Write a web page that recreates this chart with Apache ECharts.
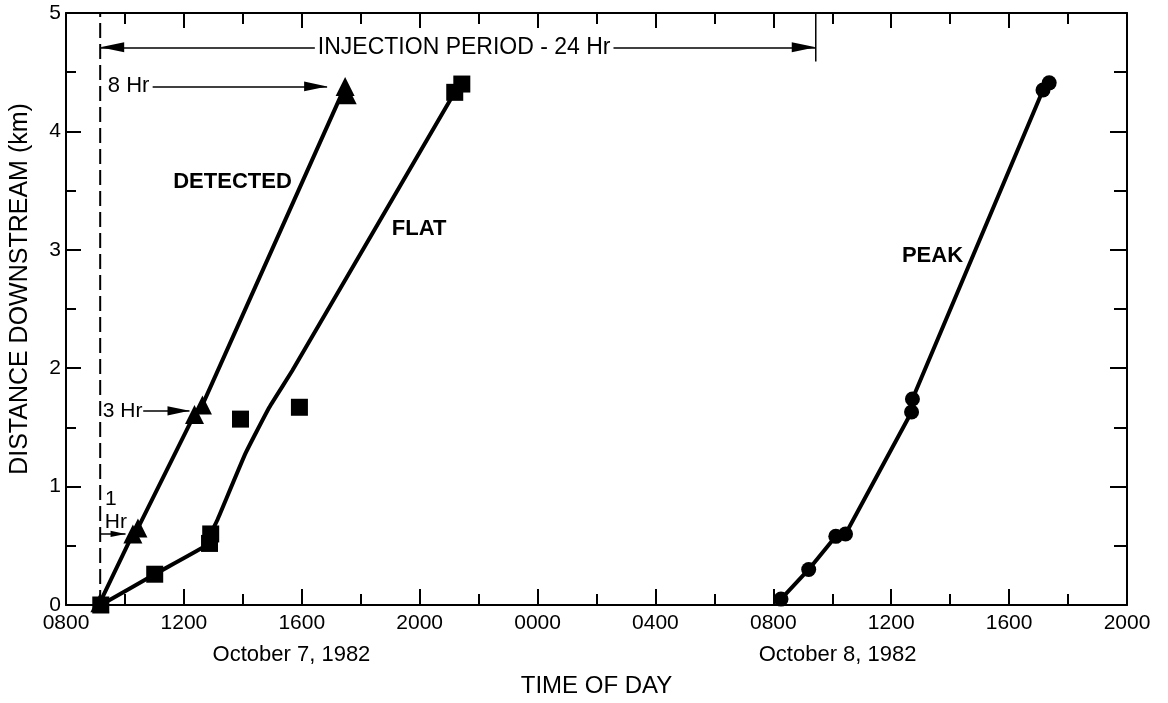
<!DOCTYPE html>
<html><head><meta charset="utf-8">
<script src="https://cdn.jsdelivr.net/npm/echarts@6/dist/echarts.min.js"></script>
<style>html,body{margin:0;padding:0;background:#fff}#c{width:1168px;height:703px}</style>
</head><body><div id="c"></div>
<script>
// x values are hours since 0800, October 7, 1982
const xTickLabels = ['0800','1200','1600','2000','0000','0400','0800','1200','1600','2000'];

const detectedHours = [1.15, 2.27, 2.44, 4.36, 4.63, 9.47, 9.54];
const detectedKm    = [0.02, 0.60, 0.65, 1.61, 1.69, 4.38, 4.31];

const flatHours = [1.18, 3.01, 4.87, 4.91, 5.92, 7.92, 13.19, 13.43];
const flatKm    = [0.00, 0.26, 0.52, 0.60, 1.57, 1.67, 4.33, 4.40];

const flatCurveHours = [1.18, 3.01, 4.87, 4.91, 5.14, 6.09, 6.90, 7.68, 13.19, 13.43];
const flatCurveKm    = [0.00, 0.26, 0.52, 0.60, 0.72, 1.28, 1.67, 1.98, 4.33, 4.40];

const peakHours = [24.26, 25.20, 26.12, 26.45, 28.69, 28.72, 33.15, 33.36];
const peakKm    = [0.05, 0.30, 0.58, 0.60, 1.63, 1.74, 4.35, 4.41];

const injectionStartHour = 1.16;
const injectionEndHour = 25.44;
const injectionArrowKm = 4.71;

const FONT = "'Liberation Sans', Arial, Helvetica, sans-serif";
const pairs = (xs, ys) => xs.map((x, i) => [x, ys[i]]);
const arrowPath = 'path://M0,0L0,0M48,48L48,48M24,24L29,48L19,48Z';

function arrow(x1, y1, x2, y2, a1, a2, size) {
  return [
    {coord: [x1, y1], symbol: a1 ? arrowPath : 'none', symbolSize: size},
    {coord: [x2, y2], symbol: a2 ? arrowPath : 'none', symbolSize: size}
  ];
}
function txt(x, y, text, opts) {
  return {value: [x, y], label: Object.assign({show: true, formatter: text, color: '#000', fontFamily: FONT,
    fontSize: 22, position: 'inside'}, opts || {})};
}

const axisCommon = {
  axisLine: {show: true, onZero: false, lineStyle: {color: '#000', width: 2}},
  splitLine: {show: false}, minorSplitLine: {show: false}
};

const option = {
  animation: false,
  backgroundColor: '#fff',
  grid: {left: 63, right: 41, top: 13, bottom: 94},
  xAxis: [
    Object.assign({
      type: 'value', min: 0, max: 36, interval: 4, position: 'bottom',
      axisTick: {show: true, inside: true, length: 16, lineStyle: {color: '#000', width: 2}},
      minorTick: {show: true, splitNumber: 2, length: 11, lineStyle: {color: '#000', width: 2}},
      axisLabel: {color: '#000', fontSize: 21, fontFamily: FONT, margin: 8,
        formatter: v => xTickLabels[Math.round(v / 4)]},
      name: 'TIME OF DAY', nameLocation: 'middle', nameGap: 69,
      nameTextStyle: {color: '#000', fontSize: 24, fontFamily: FONT}
    }, axisCommon),
    Object.assign({
      type: 'value', min: 0, max: 36, interval: 4, position: 'top',
      axisTick: {show: true, inside: true, length: 15, lineStyle: {color: '#000', width: 2}},
      minorTick: {show: true, splitNumber: 2, length: 11, lineStyle: {color: '#000', width: 2}},
      axisLabel: {show: false}
    }, axisCommon)
  ],
  yAxis: [
    Object.assign({
      type: 'value', min: 0, max: 5, interval: 1, position: 'left',
      axisTick: {show: true, inside: true, length: 15, lineStyle: {color: '#000', width: 2}},
      minorTick: {show: true, splitNumber: 2, length: 10, lineStyle: {color: '#000', width: 2}},
      axisLabel: {color: '#000', fontSize: 21, fontFamily: FONT, margin: 5},
      name: 'DISTANCE DOWNSTREAM (km)', nameLocation: 'middle', nameRotate: 90, nameGap: 33,
      nameTextStyle: {color: '#000', fontSize: 25, fontFamily: FONT, padding: [0, 0, 0, 40]}
    }, axisCommon),
    Object.assign({
      type: 'value', min: 0, max: 5, interval: 1, position: 'right',
      axisTick: {show: true, inside: true, length: 17, lineStyle: {color: '#000', width: 2}},
      minorTick: {show: true, splitNumber: 2, length: 13, lineStyle: {color: '#000', width: 2}},
      axisLabel: {show: false}
    }, axisCommon)
  ],
  series: [
    {type: 'line', name: 'injection start', data: [[injectionStartHour, 0], [injectionStartHour, 5]],
      showSymbol: false, silent: true, z: 1,
      lineStyle: {color: '#000', width: 2, type: [15, 6]}},
    {type: 'line', name: 'injection end', data: [[injectionEndHour, 5], [injectionEndHour, 4.59]],
      showSymbol: false, silent: true, z: 1,
      lineStyle: {color: '#000', width: 1.5}},
    {type: 'line', name: 'DETECTED', data: pairs(detectedHours, detectedKm),
      symbol: 'triangle', symbolSize: 19, showAllSymbol: true, z: 5,
      itemStyle: {color: '#000', opacity: 1}, lineStyle: {color: '#000', width: 4}},
    {type: 'line', name: 'FLAT curve', data: pairs(flatCurveHours, flatCurveKm),
      showSymbol: false, z: 4, smooth: 0.12,
      lineStyle: {color: '#000', width: 4}},
    {type: 'scatter', name: 'FLAT', data: pairs(flatHours, flatKm),
      symbol: 'rect', symbolSize: 17, z: 6, itemStyle: {color: '#000', opacity: 1}},
    {type: 'line', name: 'PEAK', data: pairs(peakHours, peakKm),
      symbol: 'circle', symbolSize: 15, showAllSymbol: true, z: 5,
      itemStyle: {color: '#000', opacity: 1}, lineStyle: {color: '#000', width: 4}},
    {type: 'scatter', name: 'annotations', data: [], silent: true, z: 3,
      markLine: {
        silent: true, animation: false, label: {show: false},
        lineStyle: {color: '#000', width: 1.5, type: 'solid', opacity: 1},
        itemStyle: {color: '#000', opacity: 1},
        data: [
          arrow(injectionStartHour, injectionArrowKm, injectionEndHour, injectionArrowKm, true, true, 48),
          arrow(2.94, 4.38, 8.86, 4.38, false, true, 46),
          arrow(2.62, 1.64, 4.19, 1.64, false, true, 44),
          arrow(1.16, 0.60, 2.02, 0.60, false, true, 30)
        ]
      }},
    {type: 'scatter', name: 'labels', symbolSize: 0, silent: true, clip: false, z: 10,
      itemStyle: {opacity: 1},
      data: [
        txt(13.51, injectionArrowKm, 'INJECTION PERIOD - 24 Hr', {fontSize: 23, backgroundColor: '#fff', padding: [2, 3]}),
        txt(1.42, 4.38, '8 Hr', {position: 'right', distance: 0}),
        txt(1.25, 1.64, '3 Hr', {position: 'right', distance: 0, fontSize: 21}),
        txt(1.52, 0.89, '1', {fontSize: 21}),
        txt(1.69, 0.70, 'Hr', {fontSize: 21}),
        txt(5.65, 3.57, 'DETECTED', {fontWeight: 'bold'}),
        txt(11.98, 3.18, 'FLAT', {fontWeight: 'bold'}),
        txt(29.40, 2.95, 'PEAK', {fontWeight: 'bold'}),
        txt(7.65, 0, 'October 7, 1982', {offset: [0, 50]}),
        txt(26.18, 0, 'October 8, 1982', {offset: [0, 50]})
      ]}
  ]
};
const chart = echarts.init(document.getElementById('c'), null, {renderer: 'canvas'});
chart.setOption(option);
</script>
</body></html>
